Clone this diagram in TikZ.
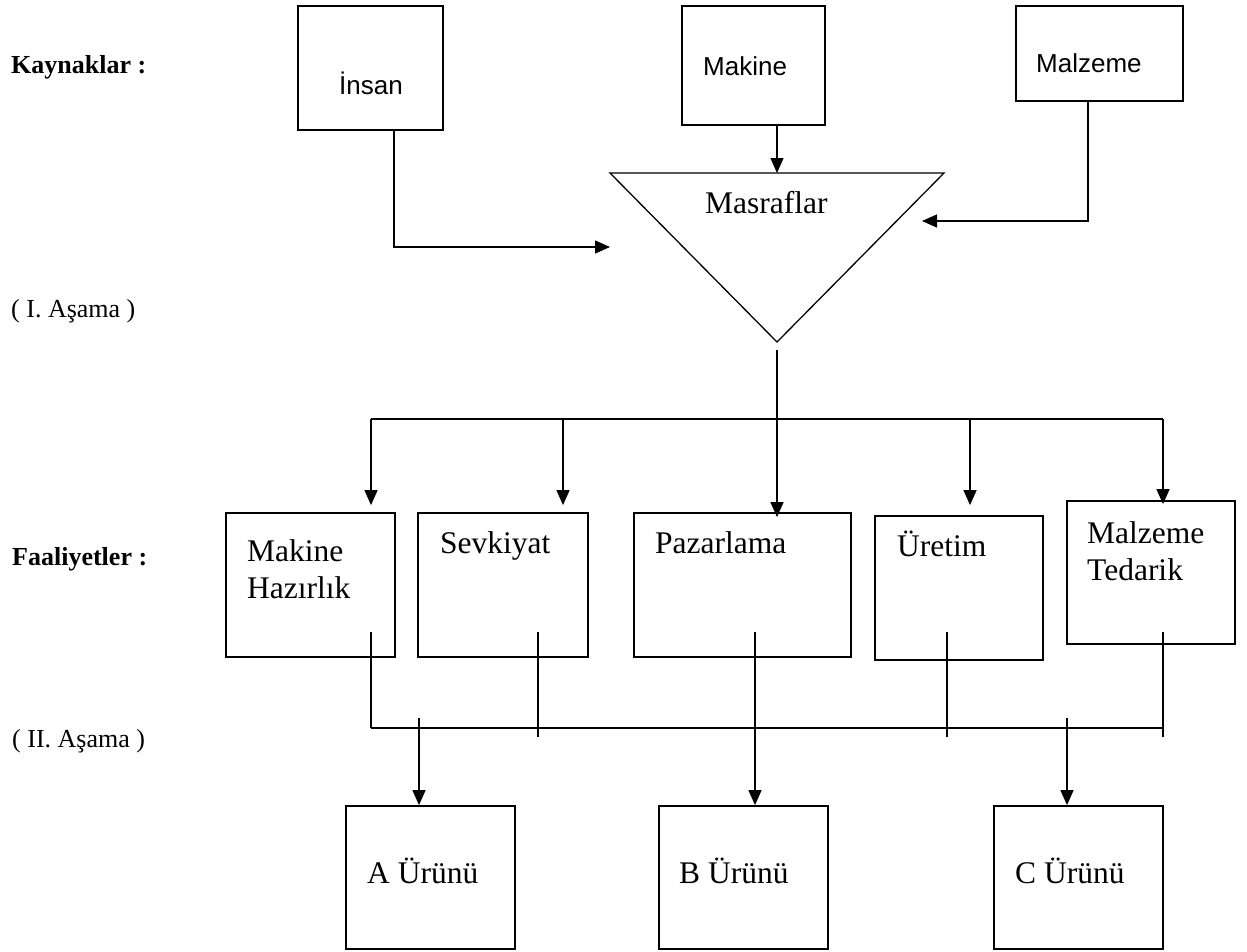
\documentclass[tikz,border=0pt]{standalone}
\usepackage{fontspec}
\setmainfont{Liberation Serif}
\newfontfamily\arialfont{Liberation Sans}
\usetikzlibrary{arrows.meta}
\begin{document}
\begin{tikzpicture}[x=1pt,y=-1pt,
  box/.style={draw,line width=1.8pt,rectangle,inner sep=0pt},
  conn/.style={line width=1.3pt},
  arr/.style={conn,-{Triangle[length=15pt,width=13pt]}},
  lbl/.style={anchor=base west,inner sep=0pt,font=\fontsize{26}{30}\selectfont},
  lblb/.style={anchor=base west,inner sep=0pt,font=\fontsize{26}{30}\selectfont\bfseries},
  txt/.style={anchor=base west,inner sep=0pt,font=\fontsize{31.5}{37}\selectfont},
  stxt/.style={anchor=base west,inner sep=0pt,font=\arialfont\fontsize{26}{30}\selectfont}]
\useasboundingbox (0,0) rectangle (1247,951);

% side labels
\node[lblb] (kay) at (11,73) {Kaynaklar :};
\node[lbl] (as1) at (11,317) {( I. Aşama )};
\node[lblb] (faa) at (12,565) {Faaliyetler :};
\node[lbl] (as2) at (12,747) {( II. Aşama )};

% resource boxes
\node[box,minimum width=145pt,minimum height=124pt] (insan) at (370.5,68) {};
\node[box,minimum width=143pt,minimum height=119pt] (makine) at (753.5,65.5) {};
\node[box,minimum width=167pt,minimum height=95pt] (malz) at (1099.5,53.5) {};
\node[stxt] (tinsan) at (339,94) {İnsan};
\node[stxt] (tmakine) at (703,75) {Makine};
\node[stxt] (tmalz) at (1036,72) {Malzeme};

% cost triangle
\coordinate (t1) at (610,173);
\coordinate (t2) at (944,173);
\coordinate (t3) at (777,342);
\draw[conn] (t1) -- (t2) -- (t3) -- cycle;
\node[txt] (mas) at (705,213) {Masraflar};

% connectors into triangle
\coordinate (i1) at (394,247);
\coordinate (i2) at (610,247);
\draw[arr] (insan.south -| i1) |- (i2);
\coordinate (tt) at (777,173);
\draw[arr] (makine.south -| tt) -- (tt);
\coordinate (m1) at (1088,221);
\coordinate (m2) at (922,221);
\draw[arr] (malz.south -| m1) |- (m2);

% activity boxes
\node[box,minimum width=169pt,minimum height=144pt] (mh) at (310.5,585) {};
\node[box,minimum width=170pt,minimum height=144pt] (sev) at (503,585) {};
\node[box,minimum width=217pt,minimum height=144pt] (paz) at (742.5,585) {};
\node[box,minimum width=168pt,minimum height=144pt] (ure) at (959,588) {};
\node[box,minimum width=168pt,minimum height=143pt] (mt) at (1151,572.5) {};
\node[txt] (tmh1) at (247,561) {Makine};
\node[txt] (tmh2) at (247,598) {Hazırlık};
\node[txt] (tsev) at (440,553) {Sevkiyat};
\node[txt] (tpaz) at (655,553) {Pazarlama};
\node[txt] (ture) at (897,556) {Üretim};
\node[txt] (tmt1) at (1087,543) {Malzeme};
\node[txt] (tmt2) at (1087,580) {Tedarik};

% distribution from triangle
\coordinate (s0) at (777,350);
\coordinate (hl) at (371,419);
\coordinate (hr) at (1163,419);
\coordinate (hs) at (563,419);
\coordinate (hu) at (970,419);
\draw[conn] (hl) -- (hr);
\draw[arr,shorten >=7pt] (hl) -- (mh.north -| hl);
\draw[arr,shorten >=7pt] (hs) -- (sev.north -| hs);
\draw[arr,shorten >=-5pt] (s0) -- (paz.north -| s0);
\draw[arr,shorten >=10pt] (hu) -- (ure.north -| hu);
\draw[arr,shorten >=-4pt] (hr) -- (mt.north -| hr);

% product boxes
\node[box,minimum width=169pt,minimum height=143pt] (pa) at (430.5,877.5) {};
\node[box,minimum width=169pt,minimum height=143pt] (pb) at (743.5,877.5) {};
\node[box,minimum width=169pt,minimum height=143pt] (pc) at (1078.5,877.5) {};
\node[txt] (tpa) at (367,883) {A Ürünü};
\node[txt] (tpb) at (679,883) {B Ürünü};
\node[txt] (tpc) at (1015,883) {C Ürünü};

% collection lines
\coordinate (b1) at (371,632);
\coordinate (b2) at (538,632);
\coordinate (b3) at (755,632);
\coordinate (b4) at (947,632);
\coordinate (b5) at (1163,632);
\coordinate (bl) at (371,728);
\coordinate (br) at (1163,728);
\draw[conn] (b1) -- (bl);
\draw[line width=2pt] (bl) -- (br);
\draw[conn] (b2) -- (538,737);
\draw[conn] (b4) -- (947,737);
\draw[conn] (b5) -- (1163,737);
\coordinate (ca) at (419,718);
\coordinate (cc) at (1067,718);
\draw[arr] (ca) -- (pa.north -| ca);
\draw[arr] (b3) -- (pb.north -| b3);
\draw[arr] (cc) -- (pc.north -| cc);
\end{tikzpicture}
\end{document}
